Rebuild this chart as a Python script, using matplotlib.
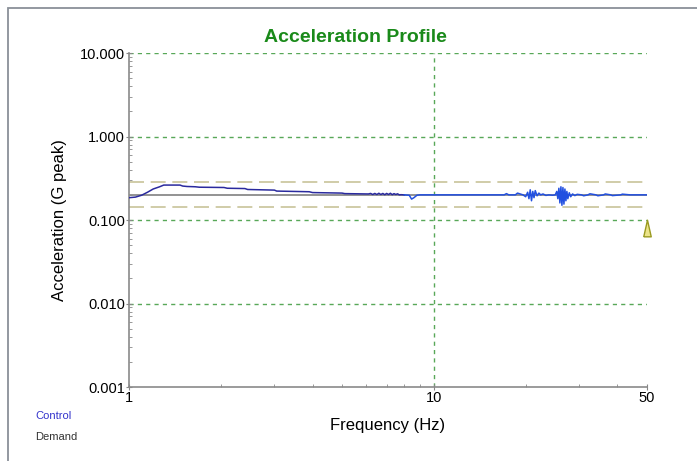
import matplotlib.pyplot as plt
from matplotlib.patches import Rectangle

plt.rcParams['font.family'] = ['Liberation Sans', 'DejaVu Sans']

# Demand profile and alarm limits (G peak)
demand_freq = [1, 50]
demand_level = [0.2, 0.2]
upper_limit = [0.2828, 0.2828]
lower_limit = [0.1414, 0.1414]

# Control trace, low frequency part
ctrl_lo_freq = [1.0, 1.05, 1.1, 1.15, 1.2, 1.26, 1.3, 1.47, 1.5, 1.55, 1.65, 1.7, 2.05, 2.1, 2.4, 2.45,
                3.0, 3.05, 3.9, 4.0, 5.0, 5.1, 6.1, 6.2, 6.3, 6.4, 6.5, 6.6, 6.7, 6.8, 6.9, 7.0,
                7.1, 7.2, 7.3, 7.4, 7.5, 7.6, 7.7, 7.8, 8.0]
ctrl_lo_val = [0.185, 0.188, 0.198, 0.215, 0.235, 0.25, 0.262, 0.262, 0.255, 0.252, 0.25, 0.247, 0.245,
               0.24, 0.238, 0.232, 0.228, 0.222, 0.218, 0.213, 0.21, 0.207, 0.205, 0.208, 0.202, 0.208,
               0.202, 0.209, 0.202, 0.208, 0.201, 0.208, 0.202, 0.209, 0.201, 0.207, 0.202, 0.206,
               0.2, 0.201, 0.2]

# Control trace, high frequency part
ctrl_hi_freq = [8.0, 8.3, 8.45, 8.6, 8.8, 9.0, 12.0, 15.0, 17.0, 17.3, 17.6, 18.5, 18.8, 19.6, 20.0,
                20.3, 20.5, 20.7, 20.9, 21.1, 21.3, 21.5, 21.8, 22.1, 22.4, 22.8, 23.3, 23.8, 24.5,
                25.0, 25.3, 25.5, 25.7, 25.9, 26.1, 26.3, 26.5, 26.7, 26.9, 27.1, 27.3, 27.5, 27.8,
                28.1, 28.5, 29.0, 29.5, 30.5, 31.0, 32.0, 32.5, 34.0, 34.5, 36.0, 36.5, 38.0, 38.5,
                41.0, 41.5, 44.0, 50.0]
ctrl_hi_val = [0.2, 0.198, 0.178, 0.185, 0.198, 0.2, 0.2, 0.2, 0.2, 0.207, 0.2, 0.2, 0.21, 0.2, 0.19,
               0.215, 0.18, 0.23, 0.17, 0.22, 0.185, 0.225, 0.195, 0.21, 0.2, 0.205, 0.197, 0.2, 0.198,
               0.2, 0.22, 0.18, 0.24, 0.16, 0.25, 0.15, 0.245, 0.155, 0.235, 0.17, 0.22, 0.18, 0.212,
               0.19, 0.205, 0.196, 0.203, 0.2, 0.195, 0.2, 0.206, 0.2, 0.195, 0.2, 0.205, 0.2, 0.196,
               0.2, 0.204, 0.2, 0.2]

# Abort marker at the top frequency
marker_freq = [50]
marker_val = [0.08]

x_ticks = [1, 10, 50]
y_ticks = [0.001, 0.01, 0.1, 1, 10]
y_tick_labels = ['0.001', '0.010', '0.100', '1.000', '10.000']

fig = plt.figure(figsize=(6.97, 4.61), dpi=100)
ax = fig.add_axes([129 / 697, 1 - 387 / 461, (647 - 129) / 697, (387 - 53) / 461])

grid_kw = dict(color='#58a858', linestyle=(0, (3, 3)), linewidth=1.0, zorder=1)
for y in [0.01, 0.1, 1, 10]:
    ax.axhline(y, **grid_kw)
ax.axvline(10, **grid_kw)

ax.plot(demand_freq, upper_limit, color='#c8c49a', linestyle=(0, (9, 4)), linewidth=1.2, zorder=2)
ax.plot(demand_freq, lower_limit, color='#c8c49a', linestyle=(0, (9, 4)), linewidth=1.2, zorder=2)
ax.plot(demand_freq, demand_level, color='#8a8a8a', linewidth=1.3, zorder=3)
ax.plot(ctrl_lo_freq, ctrl_lo_val, color='#2a2a9e', linewidth=1.1, zorder=4)
ax.plot(ctrl_hi_freq, ctrl_hi_val, color='#2250e0', linewidth=1.1, zorder=4)

# tall narrow triangle like the original
tri = [(-0.45, -1.0), (0.45, -1.0), (0.0, 1.0), (-0.45, -1.0)]
ax.plot(marker_freq, marker_val, marker=tri, markersize=12, markerfacecolor='#ece48a',
        markeredgecolor='#9a9a20', markeredgewidth=1.0, linestyle='none', zorder=5, clip_on=False)

ax.set_xscale('log')
ax.set_yscale('log')
ax.set_xlim(1, 50)
ax.set_ylim(0.001, 10)
ax.set_xticks(x_ticks)
ax.set_xticklabels([str(t) for t in x_ticks])
ax.set_yticks(y_ticks)
ax.set_yticklabels(y_tick_labels)
ax.tick_params(axis='both', which='major', labelsize=10.5, color='#888888', length=4,
               direction='inout', pad=1)
ax.tick_params(axis='both', which='minor', color='#888888', length=2, direction='in')

for side in ['top', 'right']:
    ax.spines[side].set_visible(False)
for side in ['left', 'bottom']:
    ax.spines[side].set_color('#8a8a8a')
    ax.spines[side].set_linewidth(1.2)

ax.set_xlabel('Frequency (Hz)', fontsize=12, labelpad=9)
ax.set_ylabel('Acceleration (G peak)', fontsize=12, labelpad=9)

fig.text(355 / 697, 1 - 37 / 461, 'Acceleration Profile', ha='center', va='center',
         fontsize=14, fontweight='bold', color='#1a8a1a')
fig.text(35 / 697, 1 - 416 / 461, 'Control', ha='left', va='center', fontsize=8, color='#3333cc')
fig.text(35 / 697, 1 - 437 / 461, 'Demand', ha='left', va='center', fontsize=8, color='#333333')

# outer frame
fig.patches.append(Rectangle((7.5 / 697, -0.05), 1.0, 1 - 8 / 461 + 0.05, transform=fig.transFigure,
                             fill=False, edgecolor='#8a9099', linewidth=1.3))

plt.savefig('out.png', dpi=100)
